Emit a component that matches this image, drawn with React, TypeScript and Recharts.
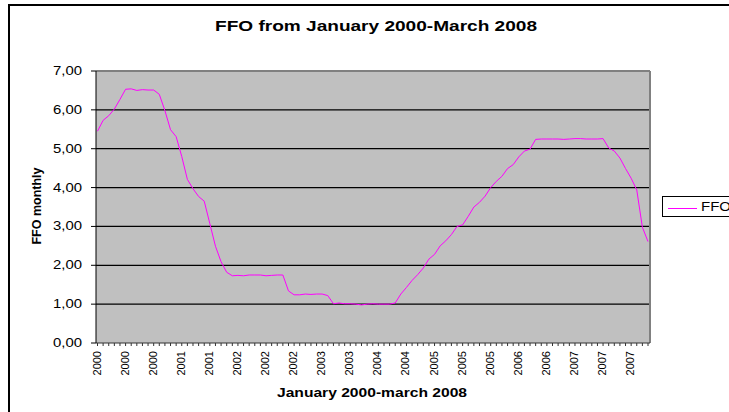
import React from "react";
import { CartesianGrid, Label, Line, LineChart, XAxis, YAxis } from "recharts";

// Effective federal funds rate, monthly, Jan 2000 - Mar 2008
const ffo2000 = [5.45, 5.73, 5.85, 6.02, 6.27, 6.53, 6.54, 6.5, 6.52, 6.51, 6.51, 6.4];
const ffo2001 = [5.98, 5.49, 5.31, 4.8, 4.21, 3.97, 3.77, 3.65, 3.07, 2.49, 2.09, 1.82];
const ffo2002 = [1.73, 1.74, 1.73, 1.75, 1.75, 1.75, 1.73, 1.74, 1.75, 1.75, 1.34, 1.24];
const ffo2003 = [1.24, 1.26, 1.25, 1.26, 1.26, 1.22, 1.01, 1.03, 1.01, 1.01, 1.0, 0.98];
const ffo2004 = [1.0, 1.01, 1.0, 1.0, 1.0, 1.03, 1.26, 1.43, 1.61, 1.76, 1.93, 2.16];
const ffo2005 = [2.28, 2.5, 2.63, 2.79, 3.0, 3.04, 3.26, 3.5, 3.62, 3.78, 4.0, 4.16];
const ffo2006 = [4.29, 4.49, 4.59, 4.79, 4.94, 4.99, 5.24, 5.25, 5.25, 5.25, 5.25, 5.24];
const ffo2007 = [5.25, 5.26, 5.26, 5.25, 5.25, 5.25, 5.26, 5.02, 4.94, 4.76, 4.49, 4.24];
const ffo2008 = [3.94, 2.98, 2.61];

const years = [2000, 2001, 2002, 2003, 2004, 2005, 2006, 2007, 2008];
const yTicks = [0, 1, 2, 3, 4, 5, 6, 7];
const gridValues = [1, 2, 3, 4, 5, 6];
const seriesName = "FFO";
const seriesColor = "#ff00ff";

const data = [ffo2000, ffo2001, ffo2002, ffo2003, ffo2004, ffo2005, ffo2006, ffo2007, ffo2008].flatMap(
  (values, i) => values.map((ffo, m) => ({ month: `${years[i]}-${m + 1}`, ffo }))
);

const font = "'Liberation Sans', Arial, sans-serif";

function YearTick(props: any) {
  const { x, y, index, payload } = props;
  if (index % 5 !== 0) return null;
  const cx = x - 1;
  return (
    <text
      x={cx}
      y={y}
      transform={`rotate(-90 ${cx} ${y})`}
      textAnchor="end"
      dominantBaseline="central"
      fontSize={11}
      fontFamily={font}
      fill="#000"
    >
      {String(payload.value).slice(0, 4)}
    </text>
  );
}

function RateTick(props: any) {
  const { x, y, payload } = props;
  return (
    <text
      x={x}
      y={y}
      textAnchor="end"
      dominantBaseline="central"
      fontSize={12.5}
      fontFamily={font}
      fill="#000"
      textLength={29}
      lengthAdjust="spacingAndGlyphs"
    >
      {Number(payload.value).toFixed(2).replace(".", ",")}
    </text>
  );
}

function FfoLegend() {
  return (
    <div
      style={{
        position: "absolute",
        left: 662,
        top: 196,
        boxSizing: "border-box",
        border: "1px solid #000",
        background: "#fff",
        height: 21,
        width: 100,
        display: "flex",
        alignItems: "center",
        fontFamily: font,
        fontSize: 12.5,
        color: "#000",
      }}
    >
      <svg width={38} height={19} style={{ display: "block" }}>
        <line x1={5} x2={34} y1={11.5} y2={11.5} stroke={seriesColor} />
      </svg>
      <span style={{ display: "inline-block", transform: "scaleX(1.2)", transformOrigin: "left" }}>
        {seriesName}
      </span>
    </div>
  );
}

export default function App() {
  return (
    <div
      style={{
        position: "absolute",
        left: 0,
        top: 0,
        width: 729,
        height: 412,
        overflow: "hidden",
        background: "#fff",
      }}
    >
      <div
        style={{
          position: "absolute",
          left: 8,
          top: 4,
          width: 800,
          height: 500,
          border: "2px solid #000",
        }}
      />
      <div style={{ position: "absolute", left: 0, top: 0 }}>
        <LineChart width={729} height={412} data={data} margin={{ top: 71, right: 79, bottom: 0, left: 36 }}>
          <text
            x={376}
            y={31}
            textAnchor="middle"
            fontWeight="bold"
            fontSize={15}
            fontFamily={font}
            fill="#000"
            textLength={322}
            lengthAdjust="spacingAndGlyphs"
          >
            FFO from January 2000-March 2008
          </text>
          <CartesianGrid
            vertical={false}
            horizontalValues={gridValues}
            stroke="#000"
            strokeWidth={1.3}
            fill="#c0c0c0"
            fillOpacity={1}
          />
          <CartesianGrid
            horizontalValues={[7]}
            verticalCoordinatesGenerator={({ offset }: any) => [offset.left + offset.width]}
            stroke="#808080"
            strokeWidth={2}
            fill="none"
          />
          <XAxis
            dataKey="month"
            interval={0}
            tickSize={3}
            tickMargin={5}
            height={69}
            padding={{ left: 1.5, right: 2 }}
            tick={YearTick}
            axisLine={{ stroke: "#333" }}
            tickLine={{ stroke: "#333" }}
          >
            <Label
              content={(p: any) => {
                const vb = p.viewBox ?? { x: 96, y: 343, width: 554, height: 69 };
                const cx = vb.x + vb.width / 2 - 1;
                return (
                  <text
                    x={cx}
                    y={vb.y + 54}
                    textAnchor="middle"
                    fontWeight="bold"
                    fontSize={12}
                    fontFamily={font}
                    fill="#000"
                    textLength={190}
                    lengthAdjust="spacingAndGlyphs"
                  >
                    January 2000-march 2008
                  </text>
                );
              }}
            />
          </XAxis>
          <YAxis
            type="number"
            domain={[0, 7]}
            ticks={yTicks}
            interval={0}
            width={60}
            tickSize={5}
            tickMargin={9}
            tick={RateTick}
            axisLine={{ stroke: "#000" }}
            tickLine={{ stroke: "#000" }}
          >
            <Label
              content={(p: any) => {
                const vb = p.viewBox ?? { x: 36, y: 71, width: 60, height: 272 };
                const cx = vb.x + 0.5;
                const cy = vb.y + vb.height / 2 - 1;
                return (
                  <text
                    x={cx}
                    y={cy}
                    transform={`rotate(-90 ${cx} ${cy})`}
                    textAnchor="middle"
                    dominantBaseline="central"
                    fontWeight="bold"
                    fontSize={12.5}
                    fontFamily={font}
                    fill="#000"
                  >
                    FFO monthly
                  </text>
                );
              }}
            />
          </YAxis>
          <Line
            type="linear"
            dataKey="ffo"
            name={seriesName}
            stroke={seriesColor}
            strokeWidth={1}
            dot={false}
            isAnimationActive={false}
          />
        </LineChart>
      </div>
      <FfoLegend />
    </div>
  );
}
